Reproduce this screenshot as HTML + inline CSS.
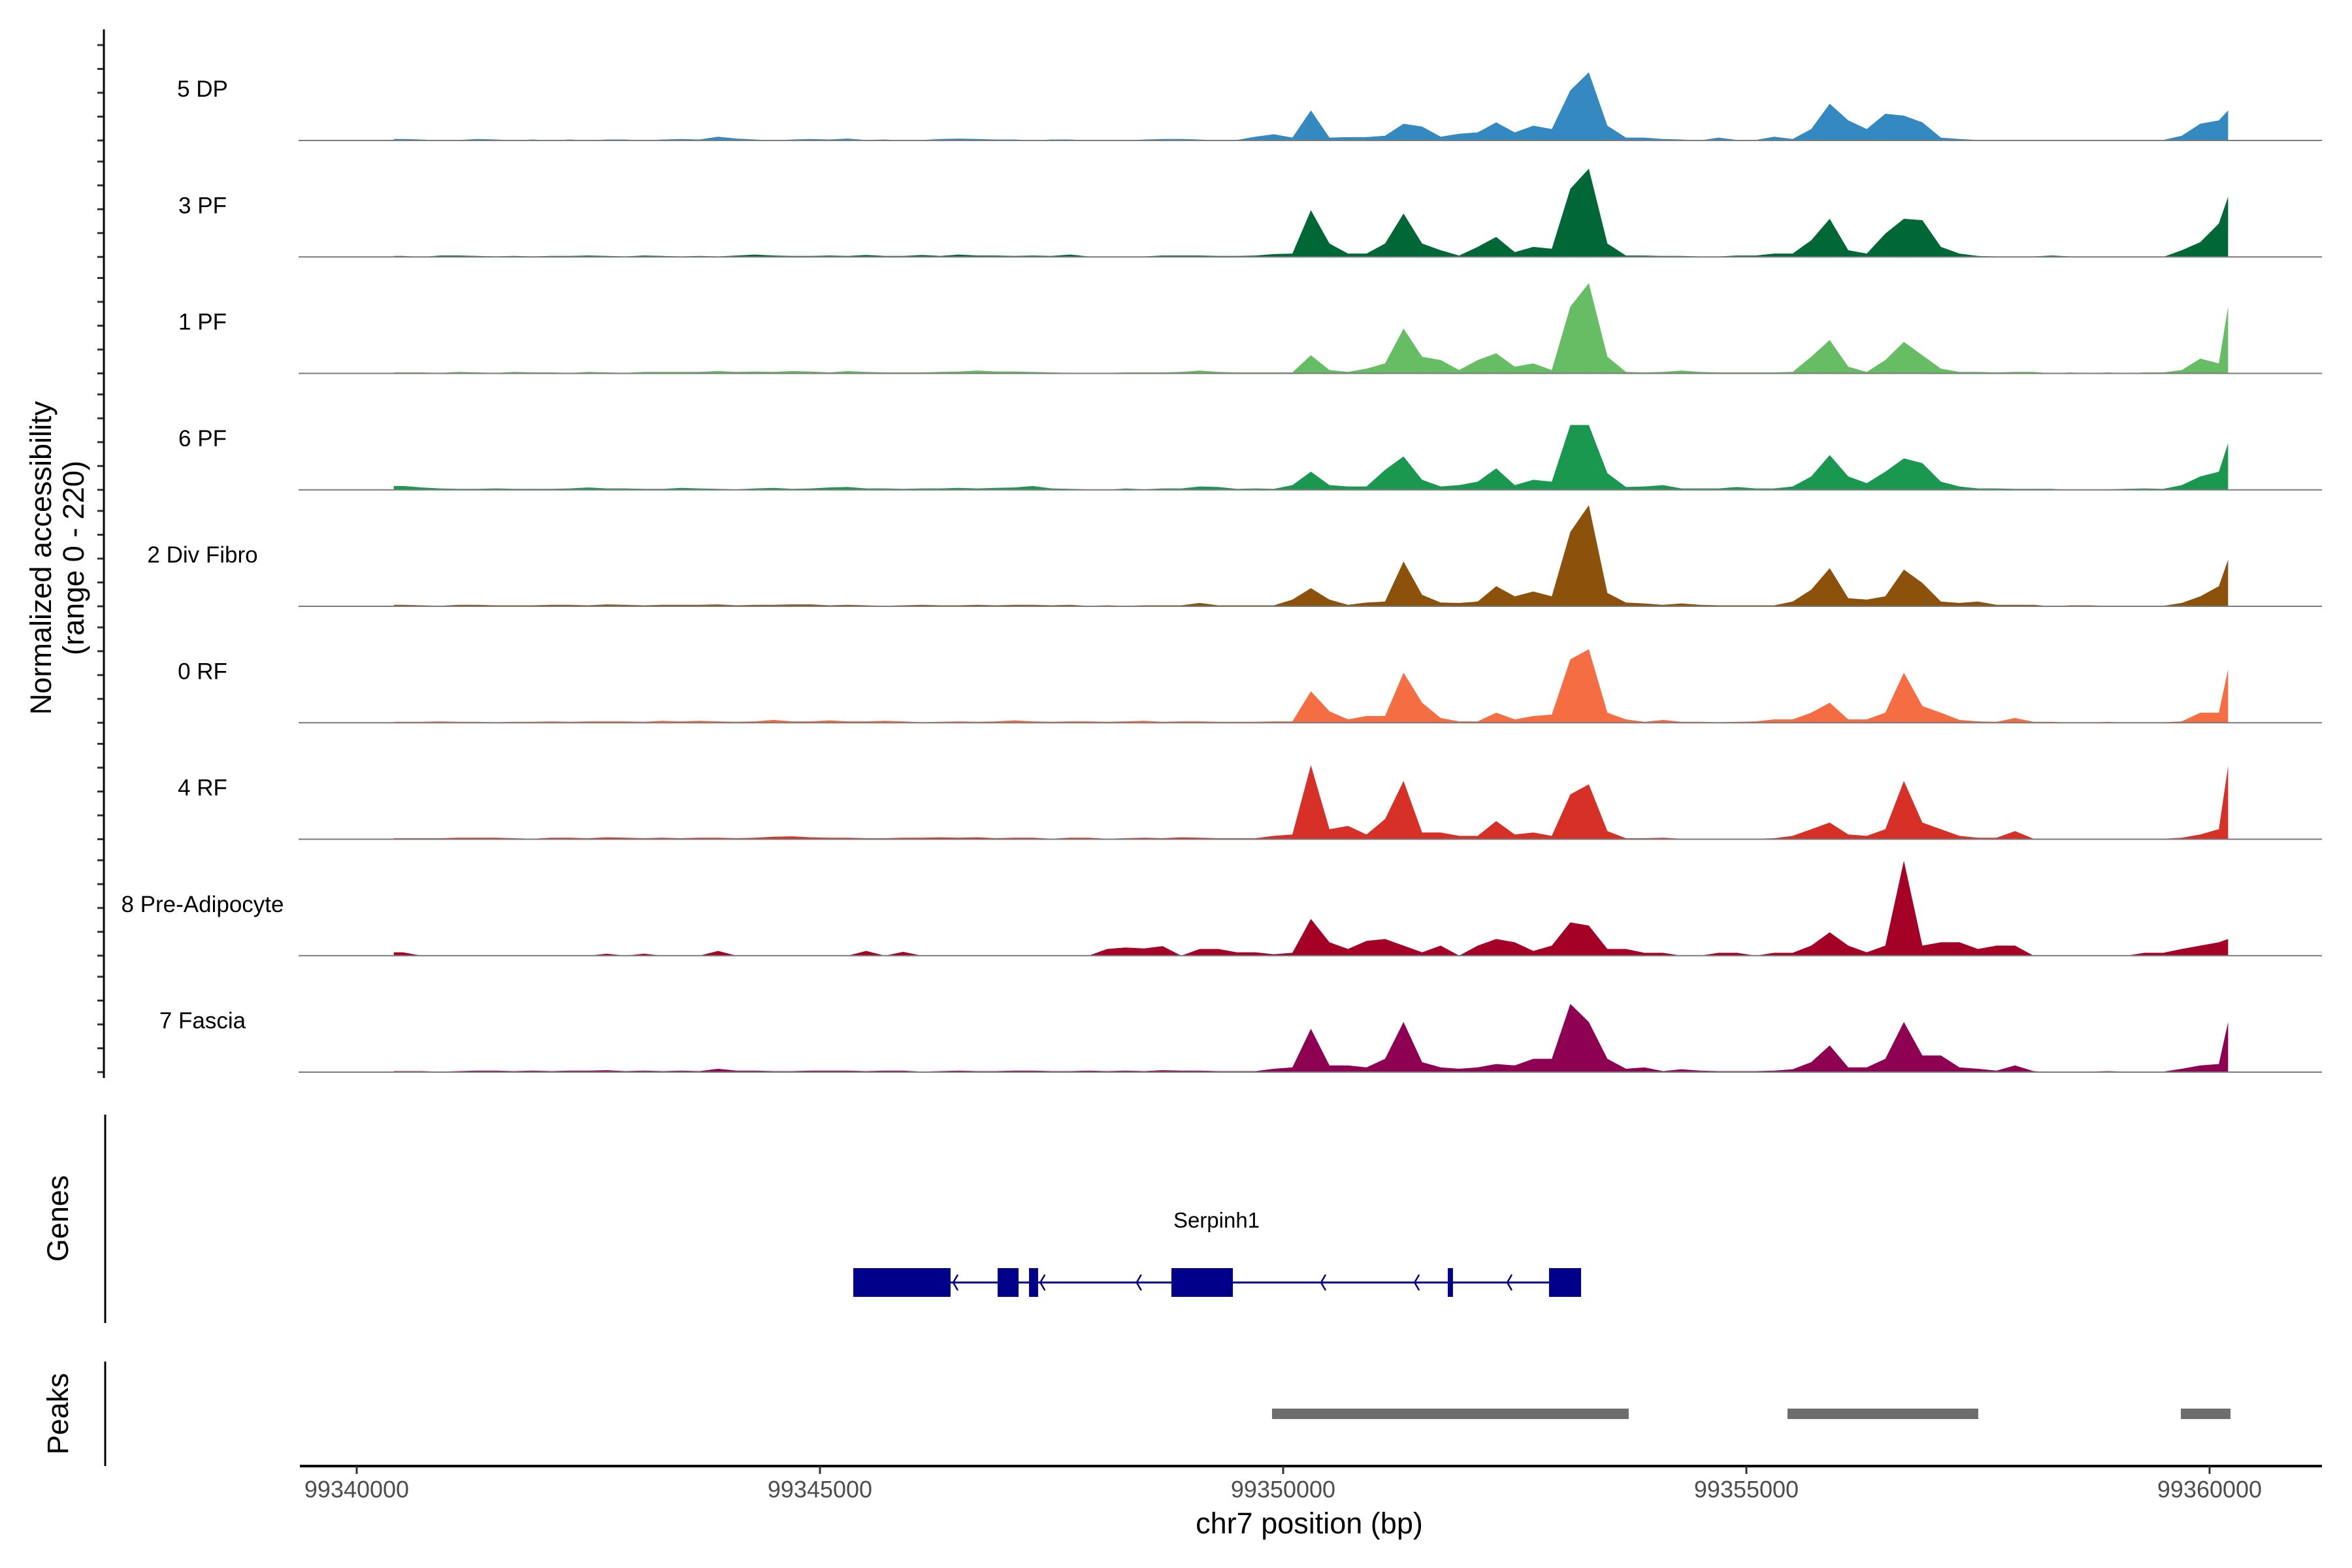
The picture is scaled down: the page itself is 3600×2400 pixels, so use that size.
<!DOCTYPE html>
<html><head><meta charset="utf-8"><style>
html,body{margin:0;padding:0;background:#fff}
svg{display:block}
text{font-family:"Liberation Sans",Arial,sans-serif}
</style></head><body>
<svg id="chart" width="3600" height="2400" viewBox="0 0 3600 2400" xmlns="http://www.w3.org/2000/svg">
<g id="tracks"></g>
<g id="axes"></g>
<g id="genes"></g>
<g id="peaks"></g>
<text transform="translate(78,854) rotate(-90)" text-anchor="middle" font-size="45">Normalized accessibility</text>
<text transform="translate(128,854) rotate(-90)" text-anchor="middle" font-size="45">(range 0 - 220)</text>
<text transform="translate(104,1865) rotate(-90)" text-anchor="middle" font-size="45">Genes</text>
<text transform="translate(104,2164) rotate(-90)" text-anchor="middle" font-size="45">Peaks</text>
<text x="2004" y="2347" text-anchor="middle" font-size="45">chr7 position (bp)</text>
</svg>
<script>
const trackNames = ["5 DP","3 PF","1 PF","6 PF","2 Div Fibro","0 RF","4 RF","8 Pre-Adipocyte","7 Fascia"];
const trackColors = ["#3489c0","#006837","#66bd63","#1a9850","#8c510a","#f46d43","#d73027","#a50026","#8e0152"];
const binStart = 99340500;
const binSize = 200;
const dataEnd = 99360200;
const xTicks = [99340000,99345000,99350000,99355000,99360000];
const xTickLabels = ["99340000","99345000","99350000","99355000","99360000"];
const yMax = 220;

const s5DP = [3,2,0,1,3,2,0,2,0,2,0,2,2,0,2,3,2,8,4,2,0,2,3,2,4,1,2,0,1,3,4,3,2,2,0,2,2,0,0,0,2,3,3,2,
 0,1,8,13,6,63,6,7,7,10,35,29,8,14,17,38,17,31,24,105,143,31,6,6,3,2,0,6,1,1,8,3,24,77,42,24,56,52,38,6,3,1,1,1,1,1,0,1,1,1,0,1,10,35,42,63];
const s3PF = [2,0,3,3,2,1,2,1,2,2,3,2,1,3,2,1,2,1,3,5,3,2,2,3,2,4,2,2,4,2,5,3,3,2,3,2,5,1,0,0,1,3,3,3,
 2,2,3,6,7,98,28,7,7,28,91,28,14,3,21,42,10,21,17,143,185,28,3,3,2,2,1,1,3,3,7,7,35,80,14,7,49,80,77,21,7,2,1,1,1,3,1,0,0,1,0,0,14,31,70,126];
const s1PF = [2,2,1,3,2,1,3,2,2,1,3,2,1,3,3,3,3,5,3,4,3,5,4,2,5,3,2,2,2,3,4,6,4,4,3,2,1,0,1,2,2,2,3,6,
 3,2,2,2,2,38,7,3,10,21,94,35,28,7,28,42,14,21,7,140,189,35,3,2,3,6,3,2,2,2,2,3,35,70,14,3,28,66,38,10,3,3,2,3,3,0,2,0,2,0,2,2,7,31,21,140];
const s6PF = [8,5,3,2,2,3,2,2,2,3,5,3,3,2,2,4,3,2,1,3,4,2,3,5,6,3,3,2,3,3,4,3,4,5,8,3,2,1,0,3,1,3,3,7,
 6,2,3,2,10,38,10,7,7,42,70,21,7,10,17,45,10,21,17,136,136,35,6,7,10,3,3,3,6,3,3,7,28,73,28,14,38,66,56,17,7,3,3,2,2,2,0,1,1,2,3,2,10,28,38,98];
const sDiv = [3,2,1,3,3,2,2,2,3,3,2,4,3,2,3,3,3,4,2,3,3,4,4,2,3,2,1,2,3,2,2,3,2,3,3,2,3,1,2,1,2,2,2,7,
 2,2,2,2,14,38,14,3,8,10,94,24,8,7,10,42,21,31,21,156,212,28,8,6,3,6,3,2,2,2,2,10,35,80,17,14,21,77,49,10,7,10,3,3,3,0,2,2,1,1,1,1,7,21,42,98];
const s0RF = [2,2,3,2,2,1,2,2,3,2,3,3,3,2,4,3,4,3,2,3,6,3,3,5,3,3,4,3,1,2,3,2,3,5,3,2,3,3,2,3,4,2,3,3,
 2,2,2,3,3,66,24,7,14,14,105,42,10,3,3,21,7,14,17,133,154,21,7,2,6,2,2,1,2,3,7,7,21,42,7,7,21,105,35,21,6,3,2,10,2,2,0,0,2,0,0,1,3,21,21,112];
const s4RF = [2,2,2,3,3,3,2,1,3,3,2,4,3,2,3,2,3,3,2,3,5,6,4,3,3,2,2,3,3,4,3,4,2,3,3,1,3,3,1,2,3,2,4,3,
 2,2,2,7,10,155,21,28,10,42,122,14,14,7,7,38,10,14,7,94,115,17,2,2,3,1,0,0,0,1,2,7,21,35,10,7,21,122,35,21,7,3,3,17,1,0,1,0,0,0,1,1,3,10,21,154];
const sPre = [7,0,0,0,0,0,0,0,0,0,0,4,0,4,0,0,0,10,0,0,0,0,0,0,0,10,0,8,0,0,0,0,0,0,0,0,0,0,14,17,15,20,0,14,
 14,7,7,3,6,77,28,14,31,35,21,7,21,0,21,35,28,10,21,70,63,14,14,6,6,0,0,6,6,0,6,6,21,49,21,7,21,199,21,28,28,14,21,21,0,0,0,0,0,0,6,6,14,21,28,35];
const sFascia = [2,2,1,2,3,3,2,3,2,3,3,4,2,3,2,3,2,7,3,3,2,2,3,3,3,2,3,3,1,2,3,2,2,3,3,2,2,3,2,3,2,4,3,3,
 2,2,2,7,10,91,14,14,10,28,105,21,10,7,10,17,14,28,28,143,105,28,7,10,2,6,3,2,2,2,3,6,21,56,10,10,28,105,35,35,10,7,3,14,2,0,0,1,2,1,1,1,7,14,17,105];
const trackSeries = [s5DP,s3PF,s1PF,s6PF,sDiv,s0RF,s4RF,sPre,sFascia];

const exonStarts = [99345360,99346918,99347257,99348794,99351777,99352870];
const exonEnds   = [99346410,99347144,99347355,99349457,99351833,99353216];
const intronStart = 99346410, intronEnd = 99352870;
const arrowPositions = [99346460,99347400,99348440,99350430,99351440,99352440];
const peakStarts = [99349880,99355444,99359690];
const peakEnds   = [99353730,99357503,99360226];

const NS="http://www.w3.org/2000/svg";
function X(pos){return 546+(pos-99340000)/5000*709;}
const firstBase=215, trackGap=178.25, trackH=160.6;
function Y(k,v){return firstBase+k*trackGap - v/yMax*trackH;}
function mk(tag,attrs,parent){const e=document.createElementNS(NS,tag);for(const a in attrs)e.setAttribute(a,attrs[a]);parent.appendChild(e);return e;}
function binPos(i,n){return i<n-1?binStart+i*binSize:dataEnd;}

const tracks=document.getElementById('tracks');
const axes=document.getElementById('axes');
for(let k=0;k<trackNames.length;k++){
  const vals=trackSeries[k];
  const n=vals.length;
  let d="M"+X(binStart-100)+","+Y(k,0)+" L"+X(binStart-100)+","+Y(k,vals[0]);
  for(let i=0;i<n;i++){d+=" L"+X(binPos(i,n)).toFixed(1)+","+Y(k,vals[i]).toFixed(1);}
  d+=" L"+X(dataEnd)+","+Y(k,0)+"Z";
  const p=mk('path',{d:d,fill:trackColors[k]},tracks);
  
  
  const bl=mk('line',{x1:457,x2:3554,y1:Y(k,0),y2:Y(k,0),stroke:'#7a7a7a','stroke-width':2},tracks);
  
  
  const t=mk('text',{x:310,y:Y(k,0)-67,'text-anchor':'middle','font-size':35},tracks);
  t.textContent=trackNames[k];
  
  
  for(let j=0;j<5;j++){
    const ty=Y(k,0)-j*36.5;
    const tk=mk('line',{x1:149,x2:159,y1:ty,y2:ty,stroke:'#333','stroke-width':3},axes);
    
    
  }
}
let ax=mk('line',{x1:159,x2:159,y1:45,y2:1650,stroke:'#000','stroke-width':3},axes);


ax=mk('line',{x1:161,x2:161,y1:1706,y2:2025,stroke:'#000','stroke-width':3},axes);


ax=mk('line',{x1:161,x2:161,y1:2084,y2:2244,stroke:'#000','stroke-width':3},axes);


ax=mk('line',{x1:459,x2:3554,y1:2244,y2:2244,stroke:'#000','stroke-width':4},axes);


for(let i=0;i<xTicks.length;i++){
  const x=X(xTicks[i]);
  const tk=mk('line',{x1:x,x2:x,y1:2244,y2:2256,stroke:'#333','stroke-width':3},axes);
  
  
  const tl=mk('text',{x:x,y:2292,'text-anchor':'middle','font-size':36,fill:'#4d4d4d'},axes);
  tl.textContent=xTickLabels[i];
  
  
}

const genes=document.getElementById('genes');
const navy='#00008b';
let il=mk('line',{x1:X(intronStart),x2:X(intronEnd),y1:1963,y2:1963,stroke:navy,'stroke-width':3},genes);


for(let i=0;i<exonStarts.length;i++){
  const r=mk('rect',{x:X(exonStarts[i]),y:1941,width:Math.max(3,X(exonEnds[i])-X(exonStarts[i])),height:44,fill:navy},genes);
  
  
}
for(let i=0;i<arrowPositions.length;i++){
  const x=X(arrowPositions[i]);
  const a=mk('path',{d:`M${x+4},1951 L${x-3},1963 L${x+4},1975`,fill:'none',stroke:navy,'stroke-width':2.5},genes);
  
  
}
const gl=mk('text',{x:1862,y:1879,'text-anchor':'middle','font-size':33},genes);
gl.textContent='Serpinh1';



const peaks=document.getElementById('peaks');
for(let i=0;i<peakStarts.length;i++){
  const r=mk('rect',{x:X(peakStarts[i]),y:2156,width:X(peakEnds[i])-X(peakStarts[i]),height:16,fill:'#6d6d6d'},peaks);
  
  
}
</script>
</body></html>
